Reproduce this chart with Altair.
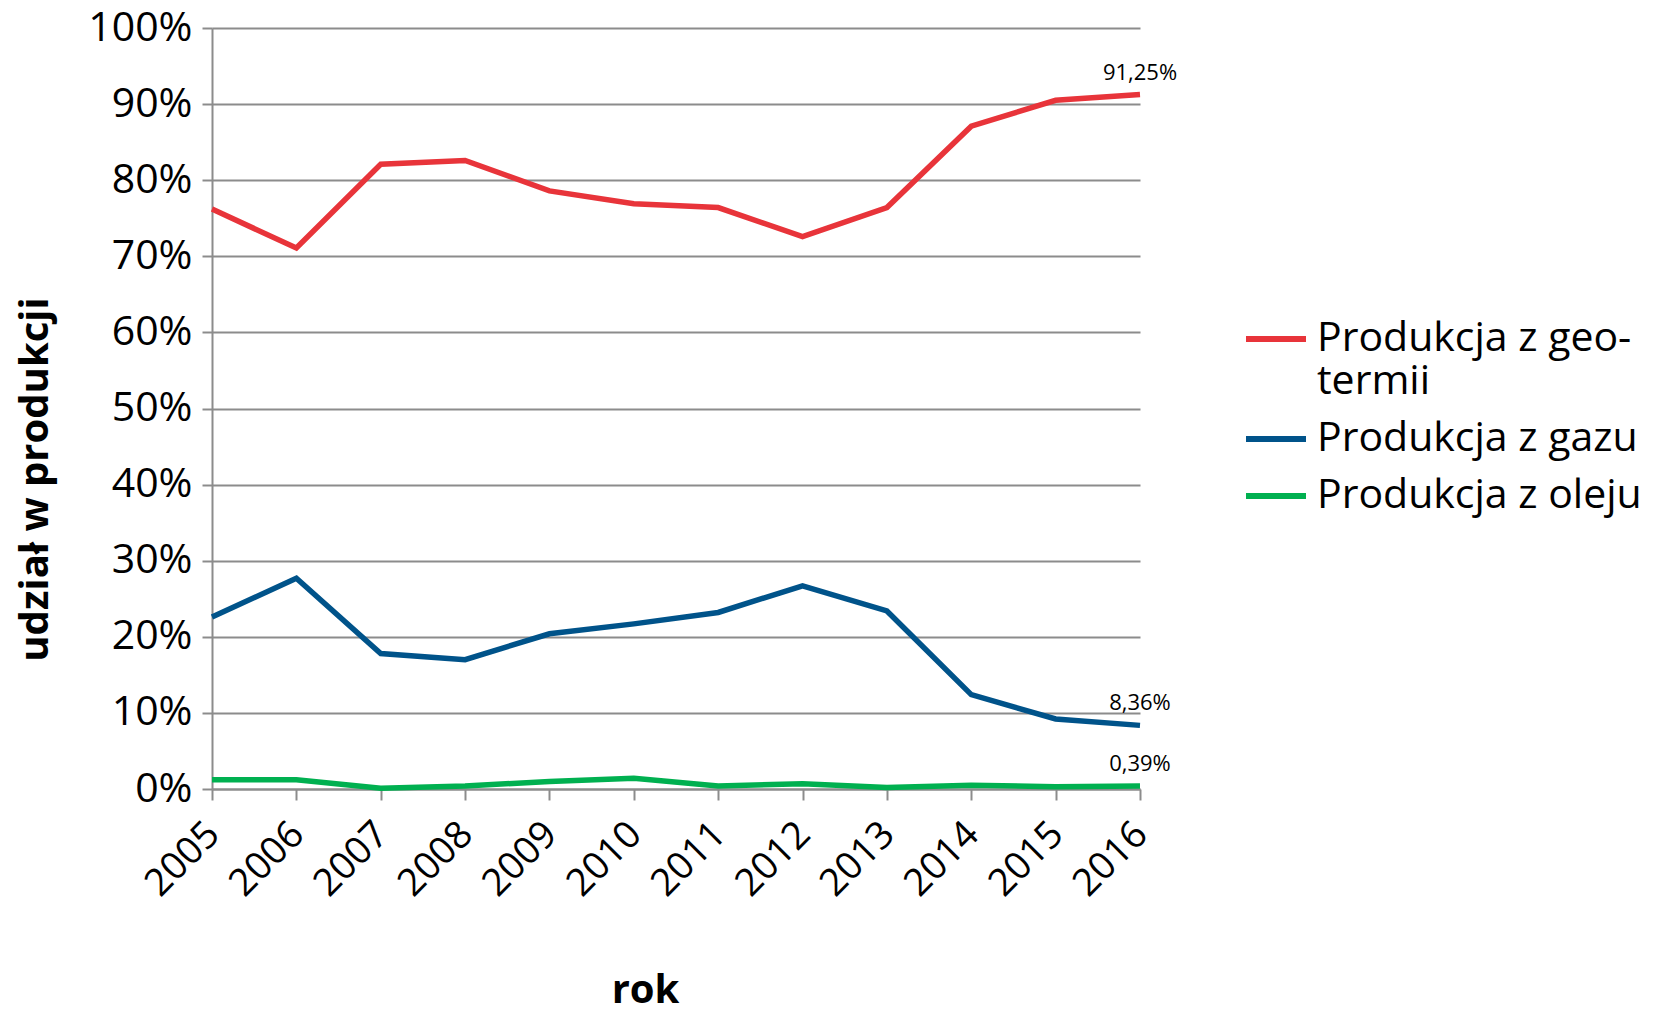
import altair as alt
import pandas as pd

# Share of heat production by source, 2005-2016 (percent)
lata = [2005, 2006, 2007, 2008, 2009, 2010, 2011, 2012, 2013, 2014, 2015, 2016]
geotermia = [76.2, 71.1, 82.1, 82.6, 78.6, 76.9, 76.4, 72.6, 76.4, 87.1, 90.5, 91.25]
gaz = [22.6, 27.7, 17.8, 17.0, 20.4, 21.7, 23.2, 26.7, 23.4, 12.4, 9.2, 8.36]
olej = [1.2, 1.2, 0.1, 0.4, 1.0, 1.4, 0.4, 0.7, 0.2, 0.5, 0.3, 0.39]

serie = ["Produkcja z geotermii", "Produkcja z gazu", "Produkcja z oleju"]
kolory = ["#E8343A", "#00538A", "#00B050"]
y_ticks = [0, 0.1, 0.2, 0.3, 0.4, 0.5, 0.6, 0.7, 0.8, 0.9, 1.0]

rows = []
for nazwa, wartosci in zip(serie, [geotermia, gaz, olej]):
    for rok, v in zip(lata, wartosci):
        rows.append({
            "rok": str(rok),
            "seria": nazwa,
            "udzial": v / 100.0,
            "etykieta": f"{v:.2f}".replace(".", ",") + "%",
        })
df = pd.DataFrame(rows)

FONT = "Open Sans"
GREY = "#8C8C8C"

x_enc = alt.X(
    "rok:O",
    scale=alt.Scale(type="point", padding=0),
    axis=alt.Axis(
        title="rok",
        labelAngle=315,
        labelFont=FONT,
        labelFontSize=38,
        labelColor="black",
        labelPadding=15,
        labelOffset=-12,
        tickSize=11,
        tickColor=GREY,
        tickWidth=2,
        domainColor=GREY,
        domainWidth=2,
        grid=False,
        titleFont=FONT,
        titleFontSize=40,
        titleFontWeight="bold",
        titleColor="black",
        titleX=433,
        titleY=201,
        titleAlign="center",
        titleBaseline="middle",
    ),
)

y_enc = alt.Y(
    "udzial:Q",
    scale=alt.Scale(domain=[0, 1]),
    axis=alt.Axis(
        title="udział w produkcji",
        values=y_ticks,
        format=".0%",
        labelFont=FONT,
        labelFontSize=41,
        labelColor="black",
        labelPadding=10,
        tickSize=10,
        tickColor=GREY,
        tickWidth=2,
        domainColor=GREY,
        domainWidth=2,
        grid=True,
        gridColor=GREY,
        gridWidth=2,
        titleFont=FONT,
        titleFontSize=40,
        titleFontWeight="bold",
        titleColor="black",
        titleAngle=270,
        titleX=-177,
        titleY=451,
        titleAlign="center",
        titleBaseline="middle",
    ),
)

# The first legend label wraps onto a second line, which hangs below its symbol.
color_enc = alt.Color(
    "seria:N",
    sort=serie,
    scale=alt.Scale(domain=serie, range=kolory),
    legend=alt.Legend(
        title=None,
        orient="none",
        legendX=1031,
        legendY=278,
        direction="vertical",
        symbolType="stroke",
        symbolSize=3600,
        symbolStrokeWidth=6,
        labelFont=FONT,
        labelFontSize=41,
        labelColor="black",
        labelOffset=8,
        labelBaseline="middle",
        labelLimit=0,
        rowPadding=4,
        padding=0,
        labelExpr="datum.label == 'Produkcja z geotermii' ? ['Produkcja z geo-', 'termii'] : datum.label",
    ),
)

lines = alt.Chart(df).mark_line(strokeWidth=5.5, strokeJoin="miter").encode(
    x=x_enc, y=y_enc, color=color_enc
)

labels = alt.Chart(df).transform_filter(
    alt.datum.rok == "2016"
).mark_text(
    font=FONT, fontSize=22, color="black", baseline="alphabetic", align="center", dy=-15
).encode(
    x=alt.X("rok:O", scale=alt.Scale(type="point", padding=0)),
    y=alt.Y("udzial:Q", scale=alt.Scale(domain=[0, 1])),
    text="etykieta:N",
)

chart = alt.layer(lines, labels).properties(
    width=928,
    height=761,
    autosize=alt.AutoSizeParams(type="none"),
    padding={"left": 212, "top": 28, "right": 519, "bottom": 220},
    background="white",
).configure_view(stroke=None)

chart.save("out.html", embed_options={"renderer": "svg", "actions": False})
